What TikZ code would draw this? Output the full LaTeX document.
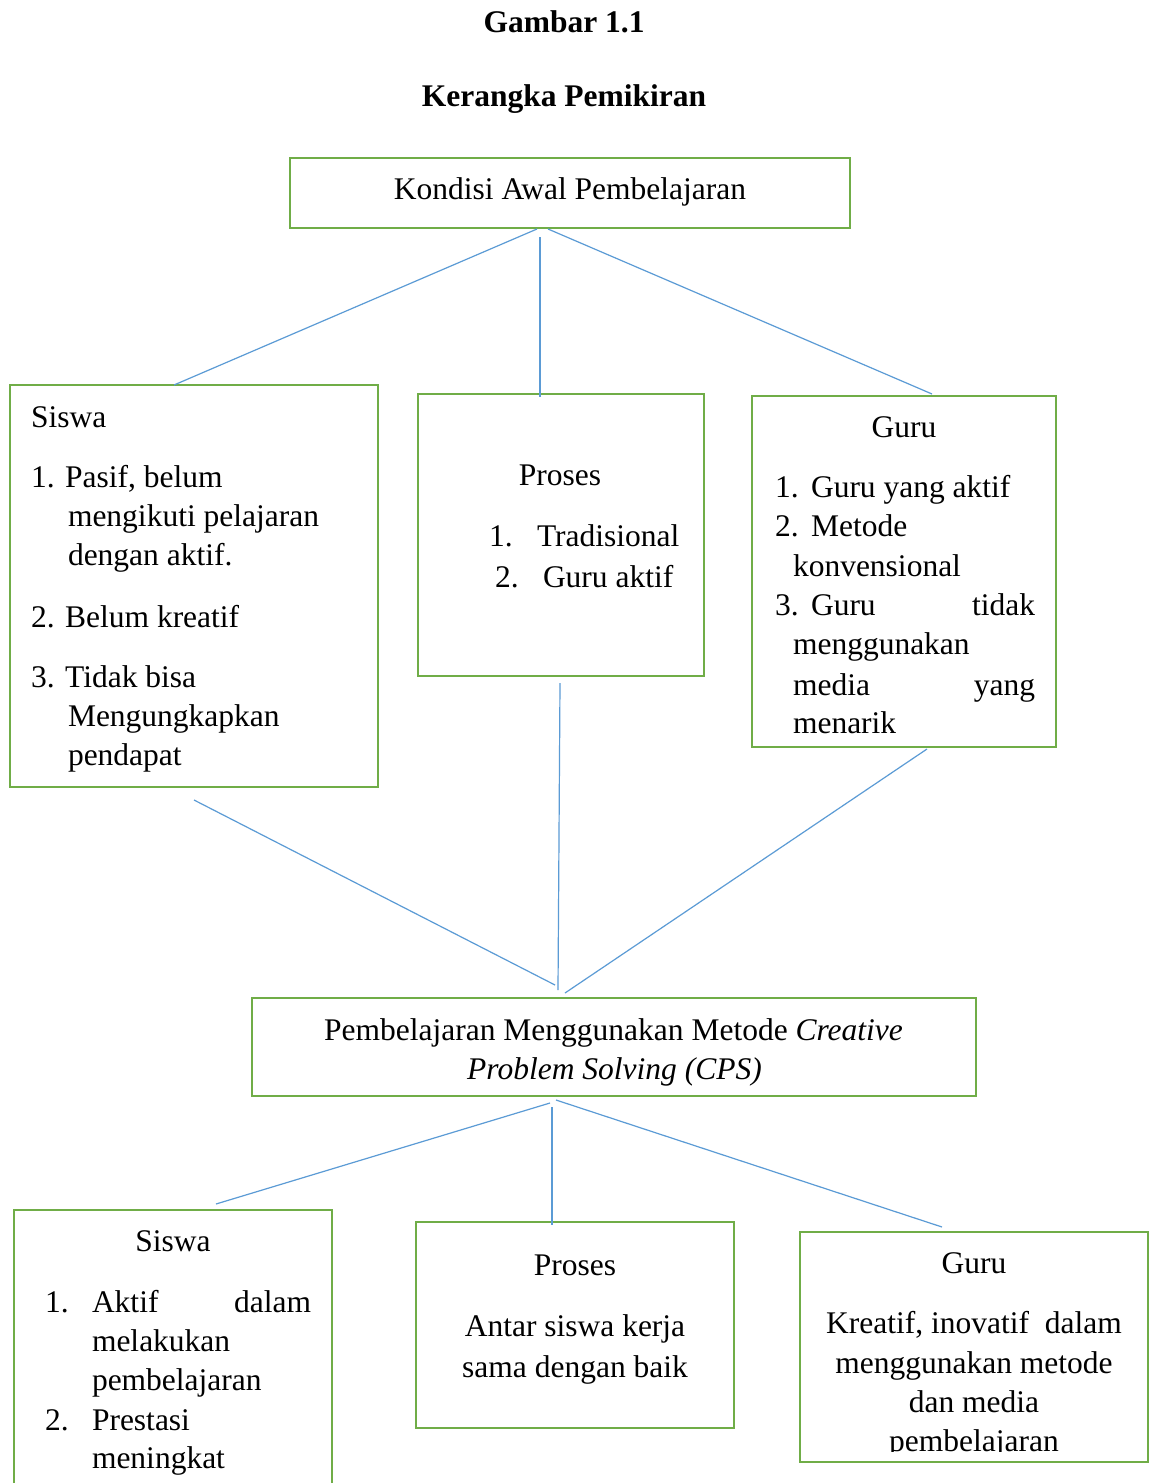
\documentclass[tikz,border=0pt]{standalone}
\usepackage{fontspec}
\setmainfont{Liberation Serif}
\definecolor{boxgreen}{HTML}{70AD47}
\definecolor{lineblue}{HTML}{5B9BD5}
\begin{document}
\begin{tikzpicture}[x=1pt,y=-1pt,
  box/.style={draw=boxgreen, line width=2.6pt, rectangle, inner sep=0pt, outer sep=0pt},
  conn/.style={draw=lineblue, line width=1.2pt},
  txt/.style={inner sep=0pt, outer sep=0pt, anchor=base west, font=\fontsize{31.5}{38}\selectfont},
  ctxt/.style={txt, anchor=base},
  rtxt/.style={txt, anchor=base east},
  ttl/.style={ctxt, font=\fontsize{31.5}{38}\selectfont\bfseries}]
\clip (0,0) rectangle (1151,1483);
\fill[white] (0,0) rectangle (1151,1483);

% titles
\node[ttl] (t1) at (564,32) {Gambar 1.1};
\node[ttl] (t2) at (564,106) {Kerangka Pemikiran};

% boxes
\node[box, minimum width=560pt, minimum height=70pt] (k) at (570,193) {};
\node[box, minimum width=368pt, minimum height=402pt] (s1) at (194,586) {};
\node[box, minimum width=286pt, minimum height=282pt] (p1) at (561,535) {};
\node[box, minimum width=304pt, minimum height=351pt] (g1) at (904,571.5) {};
\node[box, minimum width=724pt, minimum height=98pt] (cps) at (614,1047) {};
\node[box, minimum width=318pt, minimum height=310pt] (s2) at (173,1365) {};
\node[box, minimum width=318pt, minimum height=206pt] (p2) at (575,1325) {};
\node[box, minimum width=348pt, minimum height=230pt] (g2) at (974,1347) {};

% top box text
\node[ctxt] (kt) at (570,199) {Kondisi Awal Pembelajaran};

% Siswa 1
\node[txt] (s1a) at (31,427) {Siswa};
\node[txt] (s1b) at (31,487) {1. Pasif, belum};
\node[txt] (s1c) at (68,526) {mengikuti pelajaran};
\node[txt] (s1d) at (68,565) {dengan aktif.};
\node[txt] (s1e) at (31,627) {2. Belum kreatif};
\node[txt] (s1f) at (31,687) {3. Tidak bisa};
\node[txt] (s1g) at (68,726) {Mengungkapkan};
\node[txt] (s1h) at (68,765) {pendapat};

% Proses 1
\node[ctxt] (p1a) at (560,485) {Proses};
\node[txt] (p1b) at (489,546) {1.};
\node[txt] (p1c) at (537,546) {Tradisional};
\node[txt] (p1d) at (495,587) {2.};
\node[txt] (p1e) at (543,587) {Guru aktif};

% Guru 1
\node[ctxt] (g1a) at (904,437) {Guru};
\node[txt] (g1b) at (775,497) {1.};
\node[txt] (g1c) at (811,497) {Guru yang aktif};
\node[txt] (g1d) at (775,536) {2.};
\node[txt] (g1e) at (811,536) {Metode};
\node[txt] (g1f) at (793,576) {konvensional};
\node[txt] (g1g) at (775,615) {3.};
\node[txt] (g1h) at (811,615) {Guru};
\node[rtxt] (g1i) at (1035,615) {tidak};
\node[txt] (g1j) at (793,654) {menggunakan};
\node[txt] (g1k) at (793,695) {media};
\node[rtxt] (g1l) at (1035,695) {yang};
\node[txt] (g1m) at (793,733) {menarik};

% CPS
\node[ctxt] (c1) at (613.5,1040) {Pembelajaran Menggunakan Metode \textit{Creative}};
\node[ctxt] (c2) at (614.5,1079) {\textit{Problem Solving (CPS)}};

% Siswa 2
\node[ctxt] (s2a) at (173,1251) {Siswa};
\node[txt] (s2b) at (45,1312) {1.};
\node[txt] (s2c) at (92,1312) {Aktif};
\node[rtxt] (s2d) at (311,1312) {dalam};
\node[txt] (s2e) at (92,1351) {melakukan};
\node[txt] (s2f) at (92,1390) {pembelajaran};
\node[txt] (s2g) at (45,1430) {2.};
\node[txt] (s2h) at (92,1430) {Prestasi};
\node[txt] (s2i) at (92,1468) {meningkat};

% Proses 2
\node[ctxt] (p2a) at (575,1275) {Proses};
\node[ctxt] (p2b) at (575,1336) {Antar siswa kerja};
\node[ctxt] (p2c) at (575,1377) {sama dengan baik};

% Guru 2
\begin{scope}
\clip (800,1232) rectangle (1148,1451);
\node[ctxt] (g2a) at (974,1273) {Guru};
\node[ctxt] (g2b) at (974,1333) {Kreatif, inovatif\ \ dalam};
\node[ctxt] (g2c) at (974,1373) {menggunakan metode};
\node[ctxt] (g2d) at (974,1412) {dan media};
\node[ctxt] (g2e) at (974,1451) {pembelajaran};
\end{scope}

% connector end points
\coordinate (ka) at (537,229);
\coordinate (kb) at (540,237);
\coordinate (kc) at (548,229);
\coordinate (s1top) at (174,385);
\coordinate (p1top) at (540,397);
\coordinate (g1top) at (932,394);
\coordinate (s1bot) at (194,800);
\coordinate (p1bot) at (560,683);
\coordinate (g1bot) at (927,749);
\coordinate (ca) at (555,985);
\coordinate (cb) at (558,990);
\coordinate (cc) at (565,993);
\coordinate (cd) at (550,1103);
\coordinate (ce) at (552,1107);
\coordinate (cf) at (556,1100);
\coordinate (s2top) at (216,1204);
\coordinate (p2top) at (552,1225);
\coordinate (g2top) at (942,1227);

% connectors
\draw[conn] (ka) -- (s1top);
\draw[conn] (kb) -- (p1top);
\draw[conn] (kc) -- (g1top);
\draw[conn] (s1bot) -- (ca);
\draw[conn] (p1bot) -- (cb);
\draw[conn] (g1bot) -- (cc);
\draw[conn] (cd) -- (s2top);
\draw[conn] (ce) -- (p2top);
\draw[conn] (cf) -- (g2top);
\end{tikzpicture}
\end{document}
